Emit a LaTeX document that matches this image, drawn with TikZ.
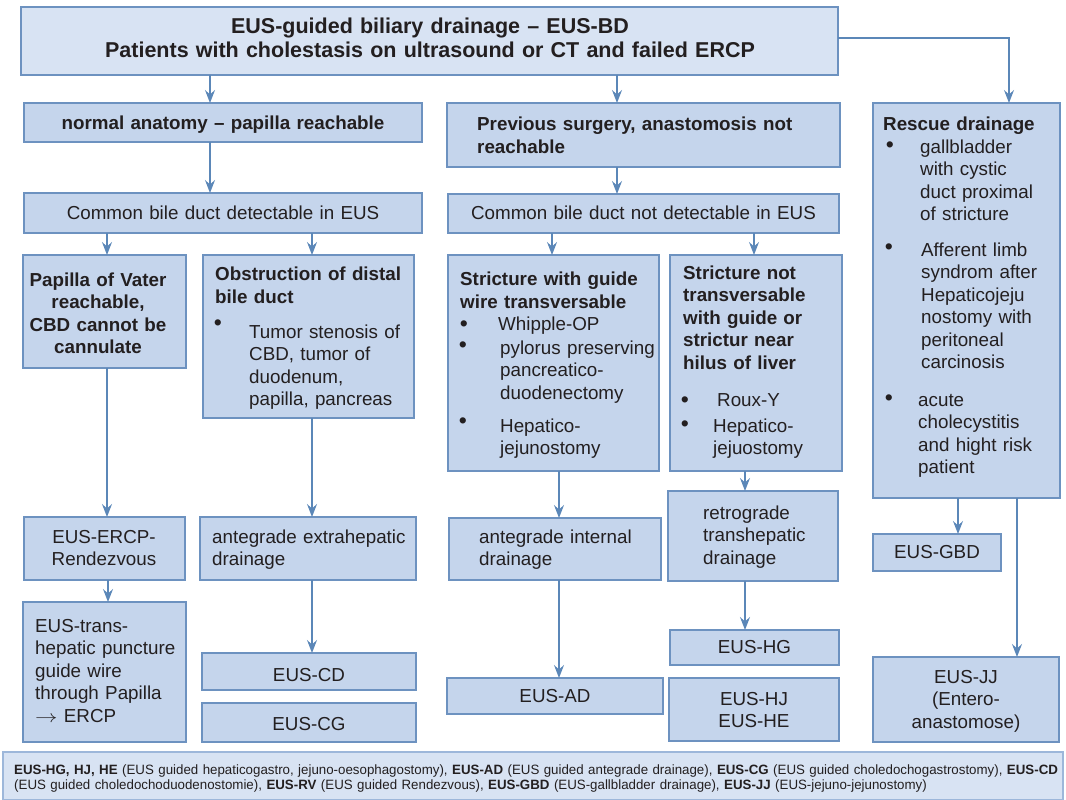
\documentclass[tikz,border=0pt]{standalone}
\usepackage{fontspec}
\setmainfont{Liberation Sans}
\usetikzlibrary{arrows.meta}

\definecolor{boxfill}{HTML}{C5D5EC}
\definecolor{lightfill}{HTML}{D8E3F3}
\definecolor{boxline}{HTML}{6D92C0}
\definecolor{legendline}{HTML}{9DB7DA}
\definecolor{arrowc}{HTML}{5B87B8}
\definecolor{ink}{HTML}{231F20}

\newsavebox\legendbox
\newcommand\legendfont{\fontsize{13.5}{15}\selectfont}
\newcommand\legendone{\textbf{EUS-HG, HJ, HE} (EUS guided hepaticogastro, jejuno-oesophagostomy), \textbf{EUS-AD} (EUS guided antegrade drainage), \textbf{EUS-CG} (EUS guided choledochogastrostomy), \textbf{EUS-CD}}
\newcommand\legendtwo{(EUS guided choledochoduodenostomie), \textbf{EUS-RV} (EUS guided Rendezvous), \textbf{EUS-GBD} (EUS-gallbladder drainage), \textbf{EUS-JJ} (EUS-jejuno-jejunostomy)}

% box with top-left corner (#3,#4) and bottom-right corner (#5,#6), in px
\newcommand\boxat[6][box]{%
  \node[#1, anchor=north west, minimum width={(#5-#3)*1pt},
        minimum height={(#6-#4)*1pt}] (#2) at (#3,#4) {};}

\tikzset{
  box/.style={draw=boxline, fill=boxfill, line width=1.3pt, inner sep=0pt, outer sep=0pt},
  lightbox/.style={box, fill=lightfill},
  legendframe/.style={box, fill=lightfill, draw=legendline},
  txt/.style={text=ink, inner sep=0pt, align=left, text width=240pt,
              font=\fontsize{18.8}{22.5}\selectfont},
  ctxt/.style={txt, align=center},
  btxt/.style={txt, font=\fontsize{18.8}{23}\selectfont\bfseries},
  cbtxt/.style={btxt, align=center},
  bul/.style={text=ink, inner sep=0pt, font=\fontsize{23}{26}\selectfont},
  arr/.style={draw=arrowc, line width=1.3pt,
              -{Stealth[length=13pt, width=10pt, inset=4.5pt]}},
}

\begin{document}
\sbox\legendbox{\legendfont\legendone}%
\pgfmathsetmacro\legendsx{1032/\the\wd\legendbox}%
\begin{tikzpicture}[x=1pt, y=-1pt]
\useasboundingbox (0,0) rectangle (1066,800);

% ---------- boxes ----------
\boxat[lightbox]{top}{21}{7}{838}{75}
\boxat{normal}{24}{103}{422}{142}
\boxat{prev}{447}{103}{840}{167}
\boxat{rescue}{873}{103}{1060}{498}
\boxat{cbdyes}{24}{193}{422}{233}
\boxat{cbdno}{448}{194}{839}{233}
\boxat{papilla}{23}{255}{186}{368}
\boxat{obstr}{203}{255}{414}{418}
\boxat{strw}{448}{255}{659}{471}
\boxat{strn}{670}{255}{842}{471}
\boxat{ercp}{24}{517}{185}{580}
\boxat{trans}{23}{602}{186}{742}
\boxat{extra}{200}{517}{416}{580}
\boxat{cd}{202}{653}{416}{690}
\boxat{cg}{202}{703}{416}{742}
\boxat{inter}{449}{518}{661}{580}
\boxat{ad}{447}{678}{663}{714}
\boxat{retro}{668}{491}{838}{581}
\boxat{hg}{670}{630}{839}{665}
\boxat{hj}{669}{678}{839}{741}
\boxat{gbd}{873}{534}{1001}{571}
\boxat{jj}{873}{657}{1059}{742}
\boxat[legendframe]{legend}{3}{752}{1063}{800}

% ---------- texts ----------
\node[cbtxt, text width=800pt, font=\fontsize{21.5}{24}\selectfont\bfseries, anchor=base]
  (top-t) at (430,34) {EUS-guided biliary drainage -- EUS-BD\\Patients with cholestasis on ultrasound or CT and failed ERCP};
\node[cbtxt, anchor=base, text width=380pt] (normal-t) at (223,129) {normal anatomy -- papilla reachable};
\node[btxt, text width=380pt, anchor=base west] (prev-t) at (477,130) {Previous surgery, anastomosis not\\reachable};
\node[ctxt, anchor=base, text width=380pt] (cbdyes-t) at (223,219) {Common bile duct detectable in EUS};
\node[ctxt, anchor=base, text width=380pt] (cbdno-t) at (643.5,219) {Common bile duct not detectable in EUS};

\node[cbtxt, font=\fontsize{18.8}{22.5}\selectfont\bfseries, anchor=base] (papilla-t) at (98,286)
  {Papilla of Vater\\reachable,\\CBD cannot be\\cannulate};

\node[btxt, anchor=base west] (obstr-t) at (215,280) {Obstruction of distal\\bile duct};
\node[bul] (obstr-b) at (218,325) {\textbullet};
\node[txt, anchor=base west] (obstr-l) at (249,338) {Tumor stenosis of\\CBD, tumor of\\duodenum,\\papilla, pancreas};

\node[btxt, anchor=base west] (strw-t) at (460,285) {Stricture with guide\\wire transversable};
\node[bul] (strw-b1) at (464,326) {\textbullet};
\node[txt, anchor=base west] (strw-l1) at (498,330) {Whipple-OP};
\node[bul] (strw-b2) at (463,347) {\textbullet};
\node[txt, anchor=base west] (strw-l2) at (500,354) {pylorus preserving\\pancreatico-\\duodenectomy};
\node[bul] (strw-b3) at (463,423) {\textbullet};
\node[txt, anchor=base west] (strw-l3) at (500,432) {Hepatico-\\jejunostomy};

\node[btxt, font=\fontsize{18.8}{22.5}\selectfont\bfseries, anchor=base west] (strn-t) at (683,279)
  {Stricture not\\transversable\\with guide or\\strictur near\\hilus of liver};
\node[bul] (strn-b1) at (685,402) {\textbullet};
\node[txt, anchor=base west] (strn-l1) at (717,406) {Roux-Y};
\node[bul] (strn-b2) at (685,426) {\textbullet};
\node[txt, anchor=base west] (strn-l2) at (713,432) {Hepatico-\\jejuostomy};

\node[btxt, anchor=base west] (rescue-t) at (883,130) {Rescue drainage};
\node[bul] (rescue-b1) at (890,147) {\textbullet};
\node[txt, anchor=base west] (rescue-l1) at (920,153) {gallbladder\\with cystic\\duct proximal\\of stricture};
\node[bul] (rescue-b2) at (889,249) {\textbullet};
\node[txt, anchor=base west] (rescue-l2) at (921,256) {Afferent limb\\syndrom after\\Hepaticojeju\\nostomy with\\peritoneal\\carcinosis};
\node[bul] (rescue-b3) at (889,400) {\textbullet};
\node[txt, anchor=base west] (rescue-l3) at (918,406) {acute\\cholecystitis\\and hight risk\\patient};

\node[ctxt, anchor=base] (ercp-t) at (104,543) {EUS-ERCP-\\Rendezvous};
\node[txt, anchor=base west] (trans-t) at (35,632)
  {EUS-trans-\\hepatic puncture\\guide wire\\through Papilla\\\scalebox{1.3}[1]{$\rightarrow$} ERCP};
\node[txt, anchor=base west] (extra-t) at (212,543) {antegrade extrahepatic\\drainage};
\node[ctxt, anchor=base] (cd-t) at (309,681) {EUS-CD};
\node[ctxt, anchor=base] (cg-t) at (309,730) {EUS-CG};
\node[txt, anchor=base west] (inter-t) at (479,543) {antegrade internal\\drainage};
\node[ctxt, anchor=base] (ad-t) at (555,702) {EUS-AD};
\node[txt, anchor=base west] (retro-t) at (703,519) {retrograde\\transhepatic\\drainage};
\node[ctxt, anchor=base] (hg-t) at (754.5,653) {EUS-HG};
\node[ctxt, anchor=base] (hj-t) at (754,705) {EUS-HJ\\EUS-HE};
\node[ctxt, anchor=base] (gbd-t) at (937,558) {EUS-GBD};
\node[ctxt, anchor=base] (jj-t) at (966,683) {EUS-JJ\\(Entero-\\anastomose)};

% ---------- legend, condensed to the frame width ----------
\node[txt, text width=1040pt, font=\legendfont, anchor=base west] (legend-t) at (14,774)
  {\scalebox{\legendsx}[1]{\legendone}\\\scalebox{\legendsx}[1]{\legendtwo}};

% ---------- connectors ----------
\coordinate (xa) at (210,0);
\coordinate (xb) at (617,0);
\coordinate (xr) at (1009,0);
\coordinate (yr) at (0,38);
\coordinate (xc) at (107,0);
\coordinate (xd) at (312,0);
\coordinate (xe) at (552,0);
\coordinate (xf) at (754,0);
\coordinate (xg) at (108,0);
\coordinate (xh) at (559,0);
\coordinate (xi) at (745,0);
\coordinate (xj) at (958,0);
\coordinate (xk) at (1017,0);

\draw[arr] (xa |- top.south) -- (xa |- normal.north);
\draw[arr] (xb |- top.south) -- (xb |- prev.north);
\draw[arr] (top.east |- yr) -| (xr |- rescue.north);
\draw[arr] (xa |- normal.south) -- (xa |- cbdyes.north);
\draw[arr] (xb |- prev.south) -- (xb |- cbdno.north);
\draw[arr] (xc |- cbdyes.south) -- (xc |- papilla.north);
\draw[arr] (xd |- cbdyes.south) -- (xd |- obstr.north);
\draw[arr] (xe |- cbdno.south) -- (xe |- strw.north);
\draw[arr] (xf |- cbdno.south) -- (xf |- strn.north);
\draw[arr] (xc |- papilla.south) -- (xc |- ercp.north);
\draw[arr] (xg |- ercp.south) -- (xg |- trans.north);
\draw[arr] (xd |- obstr.south) -- (xd |- extra.north);
\draw[arr] (xd |- extra.south) -- (xd |- cd.north);
\draw[arr] (xh |- strw.south) -- (xh |- inter.north);
\draw[arr] (xh |- inter.south) -- (xh |- ad.north);
\draw[arr] (xi |- strn.south) -- (xi |- retro.north);
\draw[arr] (xi |- retro.south) -- (xi |- hg.north);
\draw[arr] (xj |- rescue.south) -- (xj |- gbd.north);
\draw[arr] (xk |- rescue.south) -- (xk |- jj.north);
\end{tikzpicture}
\end{document}
